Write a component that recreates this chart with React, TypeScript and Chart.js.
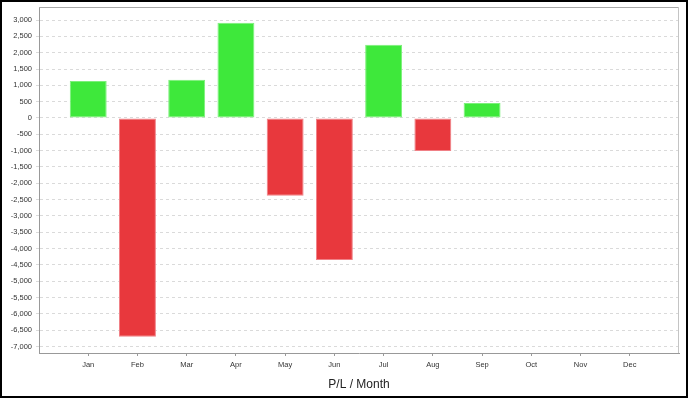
import React, { useEffect, useRef } from "react";
import { Chart, registerables } from "chart.js";

Chart.register(...registerables);

const months = ["Jan", "Feb", "Mar", "Apr", "May", "Jun", "Jul", "Aug", "Sep", "Oct", "Nov", "Dec"];
const plValues: (number | null)[] = [1130, -6700, 1170, 2920, -2380, -4350, 2240, -1010, 460, null, null, null];
const yTickValues: number[] = [];
for (let v = -7000; v <= 3000; v += 500) yTickValues.push(v);
const axisTitle = "P/L / Month";

const GREEN = "#3ee83b";
const GREEN_EDGE = "#7cf07a";
const RED = "#e8383d";
const RED_EDGE = "#f08086";
const FONT = "'Liberation Sans', Arial, sans-serif";

const framePlugin = {
  id: "frame",
  afterDraw(chart: any) {
    const { ctx, chartArea } = chart;
    ctx.save();
    ctx.lineWidth = 1;
    ctx.strokeStyle = "#a8a8a8";
    ctx.beginPath();
    ctx.moveTo(chartArea.left, chartArea.top + 0.5);
    ctx.lineTo(chartArea.right, chartArea.top + 0.5);
    ctx.stroke();
    ctx.strokeStyle = "#c4c4c4";
    ctx.beginPath();
    ctx.moveTo(chartArea.right - 0.5, chartArea.top);
    ctx.lineTo(chartArea.right - 0.5, chartArea.bottom);
    ctx.stroke();
    ctx.restore();
  },
};

export default function App() {
  const canvasRef = useRef<HTMLCanvasElement | null>(null);

  useEffect(() => {
    document.body.style.margin = "0";
    const canvas = canvasRef.current;
    if (!canvas) return;
    const data = plValues.map((v, i) => ({ x: i + 1, y: v }));
    const chart = new Chart(canvas, {
      type: "bar",
      data: {
        datasets: [
          {
            data: data as any,
            backgroundColor: plValues.map((v) => ((v ?? 0) >= 0 ? GREEN : RED)),
            borderColor: plValues.map((v) => ((v ?? 0) >= 0 ? GREEN_EDGE : RED_EDGE)),
            borderWidth: 1,
            borderSkipped: false,
            categoryPercentage: 1,
            barPercentage: 0.75,
          },
        ],
      },
      options: {
        animation: false,
        responsive: false,
        devicePixelRatio: 1,
        layout: { padding: { top: 5, right: 7, left: 0, bottom: 0 } },
        plugins: {
          legend: { display: false },
          tooltip: { enabled: false },
        },
        scales: {
          x: {
            type: "linear",
            min: 0,
            max: 13,
            offset: false,
            afterBuildTicks: (scale: any) => {
              scale.ticks = months.map((_, i) => ({ value: i + 1 }));
            },
            afterFit: (scale: any) => {
              scale.height = 43;
              scale.paddingLeft = 0;
              scale.paddingRight = 0;
            },
            grid: {
              display: true,
              drawOnChartArea: false,
              drawTicks: true,
              tickLength: 3,
              tickColor: "#999999",
              offset: false,
            },
            border: { display: true, color: "#999999", width: 1 },
            ticks: {
              autoSkip: false,
              maxRotation: 0,
              padding: 4,
              color: "#333333",
              font: { family: FONT, size: 7.5 },
              callback: (v: any) => months[Number(v) - 1] ?? "",
            },
            title: {
              display: true,
              text: axisTitle,
              color: "#222222",
              font: { family: FONT, size: 12 },
              padding: { top: 4, bottom: 4 },
            },
          },
          y: {
            min: -7200,
            max: 3400,
            afterBuildTicks: (scale: any) => {
              scale.ticks = yTickValues.map((v) => ({ value: v }));
            },
            afterFit: (scale: any) => {
              scale.width = 37;
              scale.paddingTop = 0;
              scale.paddingBottom = 0;
            },
            grid: {
              color: "#dadada",
              lineWidth: 1,
              tickLength: 3,
              tickColor: "#dadada",
            },
            border: { display: true, color: "#999999", width: 1, dash: [3, 3] },
            ticks: {
              padding: 4,
              color: "#333333",
              font: { family: FONT, size: 7.5 },
            },
          },
        },
      },
      plugins: [framePlugin],
    });
    return () => chart.destroy();
  }, []);

  return (
    <div
      style={{
        position: "absolute",
        left: 0,
        top: 0,
        width: 688,
        height: 398,
        boxSizing: "border-box",
        border: "2px solid #000",
        background: "#fff",
      }}
    >
      <canvas ref={canvasRef} width={684} height={394} style={{ display: "block" }} />
    </div>
  );
}
